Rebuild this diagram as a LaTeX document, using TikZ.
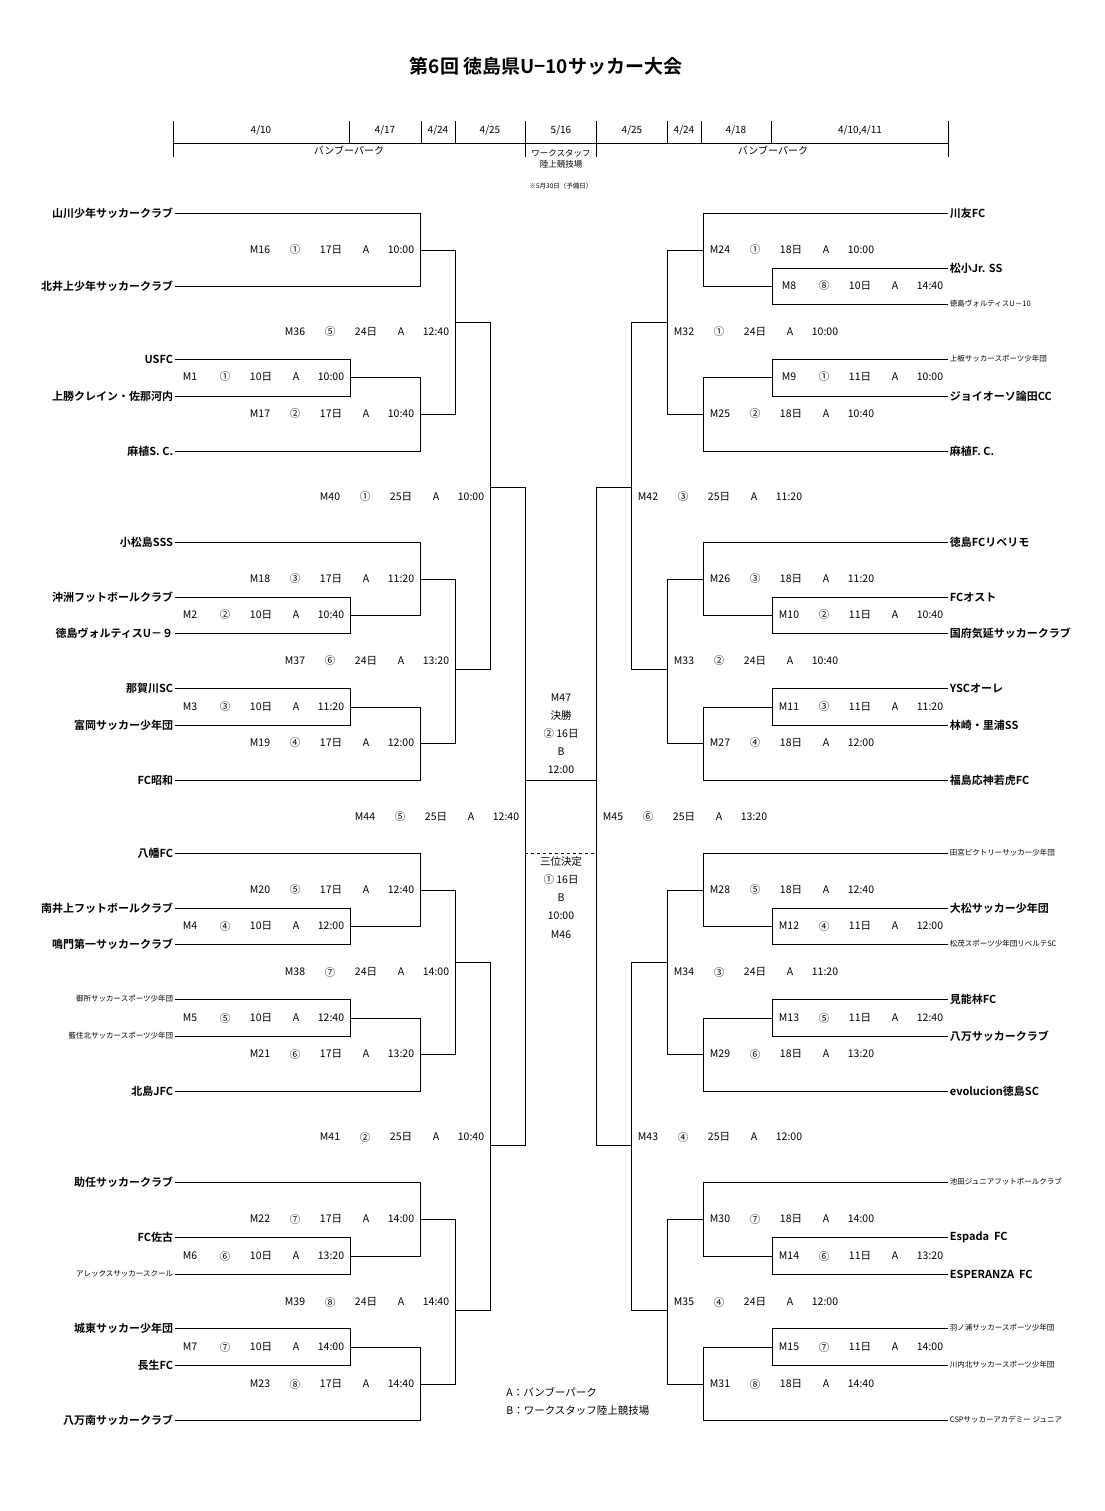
\documentclass[tikz,border=0pt]{standalone}
\usepackage{fontspec}
\newfontfamily\jp{Noto Sans CJK JP}[BoldFont={Noto Sans CJK JP Bold}]
\usetikzlibrary{positioning}

% match labels: number, court, day, A, time
\newcommand\llab[5]{%
  \path (#1) +(-160,0) node[lab]{#2} +(-125,0) node[lab]{#3} +(-89,0) node[lab]{#4}
    +(-54,0) node[lab]{A} +(-19,0) node[lab]{#5};}
\newcommand\rlab[5]{%
  \path (#1) +(17,0) node[lab]{#2} +(52,0) node[lab]{#3} +(88,0) node[lab]{#4}
    +(123,0) node[lab]{A} +(158,0) node[lab]{#5};}

\begin{document}
\begin{tikzpicture}[
    x=1pt, y=-1pt,
    font=\jp,
    line width=0.8pt,
    lab/.style={inner sep=0pt, font=\jp\fontsize{10.5}{12}\selectfont},
    tl/.style={inner sep=1.5pt, font=\jp\bfseries\fontsize{11}{13}\selectfont},
    ts/.style={inner sep=1.5pt, font=\jp\fontsize{7.5}{9}\selectfont},
    hdr/.style={inner sep=0pt, font=\jp\fontsize{10}{12}\selectfont},
    mid/.style={inner sep=0pt, font=\jp\fontsize{10.5}{12}\selectfont}
  ]
  \useasboundingbox (0,0) rectangle (1104,1511);

  % title and header
  \node[font=\jp\bfseries\fontsize{19}{22}\selectfont] (title) at (546,66) {第6回 徳島県U−10サッカー大会};
  \draw (173,143) -- (948,143);
  \foreach \x in {173,525,596,948} \draw (\x,121) -- (\x,157);
  \foreach \x in {349,421,455,667,701,771} \draw (\x,121) -- (\x,143);
  \foreach \x/\t in {261/{4/10},385/{4/17},438/{4/24},490/{4/25},561/{5/16},632/{4/25},684/{4/24},736/{4/18},860/{4/10,4/11}}
    \node[hdr] at (\x,130) {\t};
  \node[hdr] (parkl) at (349,150) {バンブーパーク};
  \node[hdr] (parkr) at (773,150) {バンブーパーク};
  \node[hdr, font=\jp\fontsize{8.5}{10}\selectfont] (ws) at (561,153) {ワークスタッフ};
  \node[hdr, font=\jp\fontsize{8.5}{10}\selectfont, below=3pt of ws] (rk) {陸上競技場};
  \node[hdr, font=\jp\fontsize{6.5}{8}\selectfont] (yobi) at (561,186) {※5月30日（予備日）};

  % left teams
  \foreach \n/\y/\s/\t in {l1/213/tl/山川少年サッカークラブ, l2/286/tl/北井上少年サッカークラブ,
      l3/359/tl/USFC, l4/396/tl/上勝クレイン・佐那河内, l5/451/tl/麻植S. C.,
      l6/542/tl/小松島SSS, l7/597/tl/沖洲フットボールクラブ, l8/633/tl/徳島ヴォルティスU－９,
      l9/688/tl/那賀川SC, l10/725/tl/富岡サッカー少年団, l11/780/tl/FC昭和,
      l12/853/tl/八幡FC, l13/908/tl/南井上フットボールクラブ, l14/944/tl/鳴門第一サッカークラブ,
      l15/999/ts/御所サッカースポーツ少年団, l16/1036/ts/藍住北サッカースポーツ少年団, l17/1091/tl/北島JFC,
      l18/1182/tl/助任サッカークラブ, l19/1237/tl/FC佐古, l20/1274/ts/アレックスサッカースクール,
      l21/1328/tl/城東サッカー少年団, l22/1365/tl/長生FC, l23/1420/tl/八万南サッカークラブ}
    \node[\s, anchor=east] (\n) at (175,\y) {\t};

  % right teams
  \foreach \n/\y/\s/\t in {r1/213/tl/川友FC, r2/268/tl/松小Jr. SS, r3/304/ts/徳島ヴォルティスU－10,
      r4/359/ts/上板サッカースポーツ少年団, r5/396/tl/ジョイオーソ論田CC, r6/451/tl/麻植F. C.,
      r7/542/tl/徳島FCリベリモ, r8/597/tl/FCオスト, r9/633/tl/国府気延サッカークラブ,
      r10/688/tl/YSCオーレ, r11/725/tl/林崎・里浦SS, r12/780/tl/福島応神若虎FC,
      r13/853/ts/田宮ビクトリーサッカー少年団, r14/908/tl/大松サッカー少年団, r15/944/ts/松茂スポーツ少年団リベルテSC,
      r16/999/tl/見能林FC, r17/1036/tl/八万サッカークラブ, r18/1091/tl/evolucion徳島SC,
      r19/1182/ts/池田ジュニアフットボールクラブ, r20/1237/tl/Espada\ \ FC, r21/1274/tl/ESPERANZA\ \ FC,
      r22/1328/ts/羽ノ浦サッカースポーツ少年団, r23/1365/ts/川内北サッカースポーツ少年団, r24/1420/ts/CSPサッカーアカデミー\ ジュニア}
    \node[\s, anchor=west] (\n) at (948,\y) {\t};

  % bracket points, left
  \foreach \n/\x/\y in {m1/350/377, m2/350/615, m3/350/707, m4/350/926, m5/350/1018, m6/350/1256, m7/350/1347,
      m16/420/250, m17/420/414, m18/420/579, m19/420/743, m20/420/890, m21/420/1054, m22/420/1219, m23/420/1384,
      m36/455/322, m37/455/669, m38/455/962, m39/455/1310, m40/490/487, m41/490/1145, fl/525/780, fl3/525/853}
    \coordinate (\n) at (\x,\y);
  % bracket points, right
  \foreach \n/\x/\y in {m8/772/286, m9/772/377, m10/772/615, m11/772/707, m12/772/926, m13/772/1018, m14/772/1256, m15/772/1347,
      m24/703/250, m25/703/414, m26/703/579, m27/703/743, m28/703/890, m29/703/1054, m30/703/1219, m31/703/1384,
      m32/667/322, m33/667/669, m34/667/962, m35/667/1310, m42/631/487, m43/631/1145, fr/596/780, fr3/596/853}
    \coordinate (\n) at (\x,\y);

  % connectors
  \foreach \a/\b in {l1/m16, l2/m16, l3/m1, l4/m1, l5/m17, l6/m18, l7/m2, l8/m2, l9/m3, l10/m3, l11/m19,
      l12/m20, l13/m4, l14/m4, l15/m5, l16/m5, l17/m21, l18/m22, l19/m6, l20/m6, l21/m7, l22/m7, l23/m23}
    \draw (\a.east) -| (\b);
  \foreach \a/\b in {r1/m24, r2/m8, r3/m8, r4/m9, r5/m9, r6/m25, r7/m26, r8/m10, r9/m10, r10/m11, r11/m11, r12/m27,
      r13/m28, r14/m12, r15/m12, r16/m13, r17/m13, r18/m29, r19/m30, r20/m14, r21/m14, r22/m15, r23/m15, r24/m31}
    \draw (\a.west) -| (\b);
  \foreach \a/\b in {m1/m17, m2/m18, m3/m19, m4/m20, m5/m21, m6/m22, m7/m23,
      m16/m36, m17/m36, m18/m37, m19/m37, m20/m38, m21/m38, m22/m39, m23/m39,
      m36/m40, m37/m40, m38/m41, m39/m41, m40/fl, m41/fl,
      m8/m24, m9/m25, m10/m26, m11/m27, m12/m28, m13/m29, m14/m30, m15/m31,
      m24/m32, m25/m32, m26/m33, m27/m33, m28/m34, m29/m34, m30/m35, m31/m35,
      m32/m42, m33/m42, m34/m43, m35/m43, m42/fr, m43/fr}
    \draw (\a) -| (\b);
  \draw (fl) -- (fr);
  \draw (fl |- m42) -- (fl |- m43);
  \draw (fr |- m42) -- (fr |- m43);
  \draw[dashed] (fl3) -- (fr3);

  % left labels
  \llab{420,250}{M16}{①}{17日}{10:00}
  \llab{455,332}{M36}{⑤}{24日}{12:40}
  \llab{350,377}{M1}{①}{10日}{10:00}
  \llab{420,414}{M17}{②}{17日}{10:40}
  \llab{490,497}{M40}{①}{25日}{10:00}
  \llab{420,579}{M18}{③}{17日}{11:20}
  \llab{350,615}{M2}{②}{10日}{10:40}
  \llab{455,661}{M37}{⑥}{24日}{13:20}
  \llab{350,707}{M3}{③}{10日}{11:20}
  \llab{420,743}{M19}{④}{17日}{12:00}
  \llab{525,817}{M44}{⑤}{25日}{12:40}
  \llab{420,890}{M20}{⑤}{17日}{12:40}
  \llab{350,926}{M4}{④}{10日}{12:00}
  \llab{455,972}{M38}{⑦}{24日}{14:00}
  \llab{350,1018}{M5}{⑤}{10日}{12:40}
  \llab{420,1054}{M21}{⑥}{17日}{13:20}
  \llab{490,1137}{M41}{②}{25日}{10:40}
  \llab{420,1219}{M22}{⑦}{17日}{14:00}
  \llab{350,1256}{M6}{⑥}{10日}{13:20}
  \llab{455,1302}{M39}{⑧}{24日}{14:40}
  \llab{350,1347}{M7}{⑦}{10日}{14:00}
  \llab{420,1384}{M23}{⑧}{17日}{14:40}

  % right labels
  \rlab{703,250}{M24}{①}{18日}{10:00}
  \rlab{772,286}{M8}{⑧}{10日}{14:40}
  \rlab{667,332}{M32}{①}{24日}{10:00}
  \rlab{772,377}{M9}{①}{11日}{10:00}
  \rlab{703,414}{M25}{②}{18日}{10:40}
  \rlab{631,497}{M42}{③}{25日}{11:20}
  \rlab{703,579}{M26}{③}{18日}{11:20}
  \rlab{772,615}{M10}{②}{11日}{10:40}
  \rlab{667,661}{M33}{②}{24日}{10:40}
  \rlab{772,707}{M11}{③}{11日}{11:20}
  \rlab{703,743}{M27}{④}{18日}{12:00}
  \rlab{596,817}{M45}{⑥}{25日}{13:20}
  \rlab{703,890}{M28}{⑤}{18日}{12:40}
  \rlab{772,926}{M12}{④}{11日}{12:00}
  \rlab{667,972}{M34}{③}{24日}{11:20}
  \rlab{772,1018}{M13}{⑤}{11日}{12:40}
  \rlab{703,1054}{M29}{⑥}{18日}{13:20}
  \rlab{631,1137}{M43}{④}{25日}{12:00}
  \rlab{703,1219}{M30}{⑦}{18日}{14:00}
  \rlab{772,1256}{M14}{⑥}{11日}{13:20}
  \rlab{667,1302}{M35}{④}{24日}{12:00}
  \rlab{772,1347}{M15}{⑦}{11日}{14:00}
  \rlab{703,1384}{M31}{⑧}{18日}{14:40}

  % final and third place
  \foreach \y/\t in {698/M47, 716/決勝, 734/② 16日, 752/B, 770/12:00,
      862/三位決定, 880/① 16日, 898/B, 916/10:00, 935/M46}
    \node[mid] at (561,\y) {\t};

  % legend
  \node[lab, anchor=west] (legA) at (506,1392) {A：バンブーパーク};
  \node[lab, anchor=west] (legB) at (506,1411) {B：ワークスタッフ陸上競技場};
\end{tikzpicture}
\end{document}
